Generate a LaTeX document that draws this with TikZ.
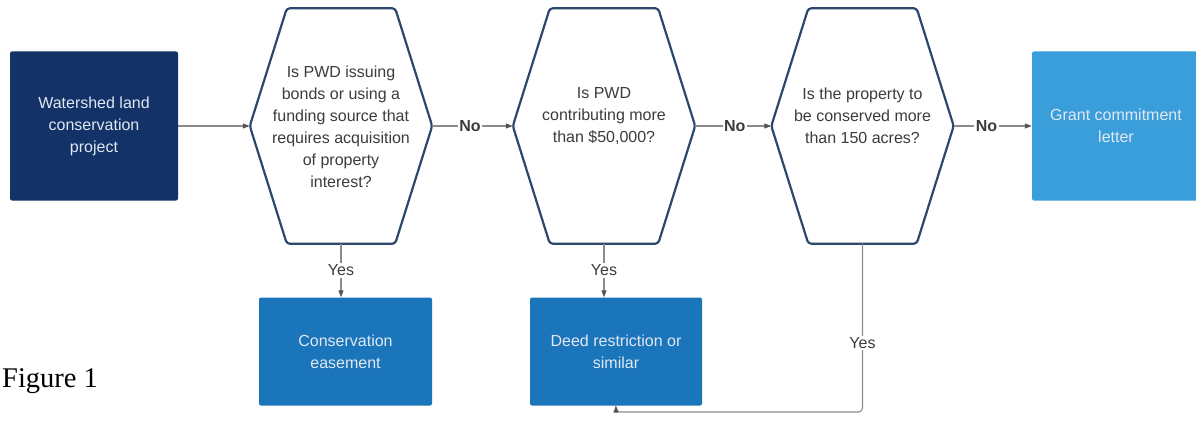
\documentclass[tikz,border=0pt]{standalone}
\usepackage{fontspec}
\setmainfont{Liberation Sans}
\newfontfamily\figfont{Liberation Serif}
\usetikzlibrary{arrows.meta,calc}
\definecolor{navy}{RGB}{18,50,104}
\definecolor{midblue}{RGB}{27,117,187}
\definecolor{lightblue}{RGB}{58,158,218}
\definecolor{hexline}{RGB}{44,72,108}
\definecolor{conn}{RGB}{140,140,140}
\definecolor{tip}{RGB}{85,85,85}
\definecolor{hextxt}{RGB}{60,60,60}
\definecolor{boxtxt}{RGB}{225,232,242}
\tikzset{
  boxbase/.style={rounded corners=2pt, inner sep=0pt, text=boxtxt, align=center,
    font=\fontsize{16}{22}\selectfont},
  navybox/.style={boxbase, fill=navy},
  midbox/.style={boxbase, fill=midblue},
  lightbox/.style={boxbase, fill=lightblue},
  hexbox/.style={draw=none, inner sep=0pt, minimum width=182pt, minimum height=235pt},
  hextext/.style={align=center, text=hextxt, inner sep=0pt, font=\fontsize{16}{22}\selectfont},
  hexdraw/.style={draw=hexline, line width=2.2pt, rounded corners=3pt, line join=round},
  link/.style={draw=conn, line width=1.1pt, -{Triangle[length=7pt,width=5pt,color=tip]}},
  lbl/.style={fill=white, inner sep=1.5pt, text=hextxt, font=\fontsize{16}{19}\selectfont},
  nolbl/.style={lbl, font=\bfseries\fontsize{16}{19}\selectfont}
}
\begin{document}
\begin{tikzpicture}[x=1pt,y=-1pt]
\useasboundingbox (0,0) rectangle (1196,436);
\fill[white] (0,0) rectangle (1196,436);

% boxes
\node[navybox, minimum width=168pt, minimum height=149pt] (b1) at (94,126)
  {Watershed land\\conservation\\project};
\node[lightbox, minimum width=168pt, minimum height=149pt] (grant) at (1116,126)
  {Grant commitment\\letter};
\node[midbox, minimum width=173pt, minimum height=108pt] (cons) at (345.5,351.5)
  {Conservation\\easement};
\node[midbox, minimum width=172pt, minimum height=108pt] (deed) at (616,351.5)
  {Deed restriction or\\similar};

% hexagons
\node[hexbox] (h1) at (341,126) {};
\node[hexbox] (h2) at (604,126) {};
\node[hexbox] (h3) at (862.5,126) {};
\foreach \h in {h1,h2,h3}{
  \draw[hexdraw] (\h.west) -- ([xshift=37pt]\h.north west) -- ([xshift=-37pt]\h.north east)
    -- (\h.east) -- ([xshift=-37pt]\h.south east) -- ([xshift=37pt]\h.south west) -- cycle;
}
\node[hextext] (t1) at ([yshift=-1pt]h1.center)
  {Is PWD issuing\\bonds or using a\\funding source that\\requires acquisition\\of property\\interest?};
\node[hextext] (t2) at ([yshift=10pt]h2.center)
  {Is PWD\\contributing more\\than \$50,000?};
\node[hextext] (t3) at ([yshift=10pt]h3.center)
  {Is the property to\\be conserved more\\than 150 acres?};

% connectors
\draw[link] (b1.east) -- (h1.west);
\draw[link] (h1.east) -- node[nolbl, pos=0.47] (n1) {No} (h2.west);
\draw[link] (h2.east) -- node[nolbl, pos=0.52] (n2) {No} (h3.west);
\draw[link] (h3.east) -- node[nolbl, pos=0.42] (n3) {No} (grant.west);
\draw[link] (h1.south) -- node[lbl] (y1) {Yes} (h1.south |- cons.north);
\draw[link] (h2.south) -- node[lbl] (y2) {Yes} (h2.south |- deed.north);
\coordinate (c1) at (h3.south |- 0,412);
\draw[link, rounded corners=4pt] (h3.south) -- node[lbl, pos=0.59] (y3) {Yes} (c1) -| (deed.south);

% caption
\node[anchor=base west, inner sep=0pt, font=\figfont\fontsize{28.5}{32}\selectfont] (fig) at (2,387) {Figure 1};
\end{tikzpicture}
\end{document}
